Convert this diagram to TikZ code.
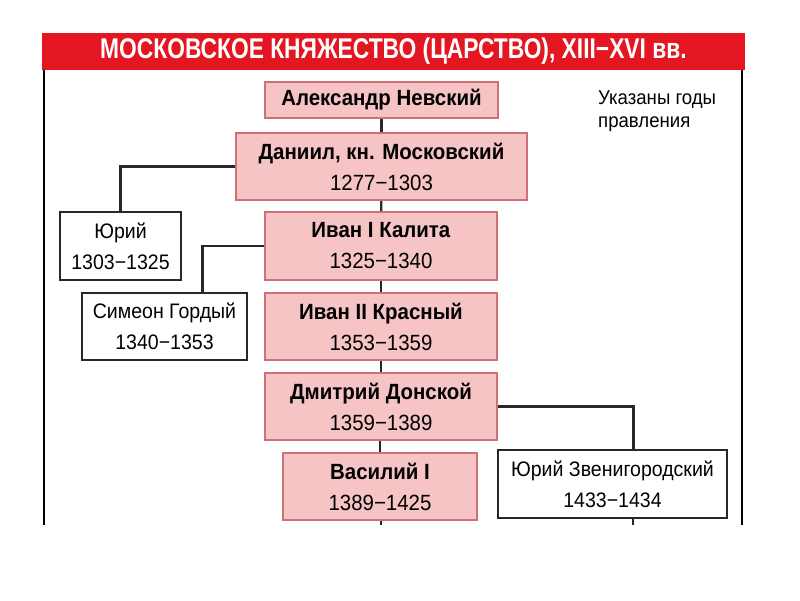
\documentclass[tikz,border=0pt]{standalone}
\usepackage{fontspec}
\setmainfont{Liberation Sans}
\newfontfamily\narrowfont[FakeStretch=0.93,Ligatures=TeX]{Liberation Sans}
\newfontfamily\titlefont[FakeStretch=0.8,Ligatures=TeX]{Liberation Sans}
\definecolor{headred}{RGB}{228,22,34}
\definecolor{rosefill}{RGB}{246,196,196}
\definecolor{roseline}{RGB}{206,112,118}
\definecolor{linkgray}{RGB}{40,40,40}
\tikzset{
  ruler/.style={draw=roseline, fill=rosefill, line width=2.2pt, align=center, inner sep=0pt,
    font=\narrowfont\fontsize{22}{31}\selectfont},
  kin/.style={draw=linkgray, fill=white, line width=2.2pt, align=center, inner sep=0pt,
    font=\narrowfont\fontsize{21}{31}\selectfont},
  link/.style={draw=linkgray, line width=2.2pt},
}
\begin{document}
\begin{tikzpicture}[x=1pt,y=-1pt]
  \useasboundingbox (0,0) rectangle (800,600);

  % frame and title
  \draw[black, line width=2.6pt] (44,70) -- (44,525);
  \draw[black, line width=2.6pt] (742,70) -- (742,525);
  \node[fill=headred, minimum width=703pt, minimum height=37pt, inner sep=0pt,
        text=white, font=\titlefont\bfseries\fontsize{28.5}{30}\selectfont]
        (title) at (393.5,51.5) {МОСКОВСКОЕ КНЯЖЕСТВО (ЦАРСТВО), XIII−XVI вв.};
  \node[anchor=north west, align=left, inner sep=0pt,
        font=\narrowfont\fontsize{20}{23}\selectfont]
        (note) at (598,91) {Указаны годы\\правления};

  % main line
  \node[ruler, minimum width=233pt, minimum height=36pt] (alex) at (381.5,100) {\textbf{Александр Невский}};
  \node[ruler, minimum width=291pt, minimum height=67pt] (daniil) at (381.5,166.5) {\textbf{Даниил, кн. Московский}\\1277−1303};
  \node[ruler, minimum width=232pt, minimum height=68pt] (ivan1) at (381,246) {\textbf{Иван I Калита}\\1325−1340};
  \node[ruler, minimum width=232pt, minimum height=67pt] (ivan2) at (381,326.5) {\textbf{Иван II Красный}\\1353−1359};
  \node[ruler, minimum width=232pt, minimum height=67pt] (dmitry) at (381,406.5) {\textbf{Дмитрий Донской}\\1359−1389};
  \node[ruler, minimum width=194pt, minimum height=67pt] (vasily) at (380,486.5) {\textbf{Василий I}\\1389−1425};

  % side branches
  \node[kin, minimum width=121pt, minimum height=68pt] (yuri) at (120.5,246) {Юрий\\1303−1325};
  \node[kin, minimum width=165pt, minimum height=67pt] (simeon) at (164.5,326.5) {Симеон Гордый\\1340−1353};
  \node[kin, minimum width=229pt, minimum height=68pt] (yurizv) at (612.5,484) {Юрий Звенигородский\\1433−1434};

  \coordinate (mainend) at (381,525);
  \coordinate (zvend) at (633,525);

  % links
  \draw[link] (alex) -- (daniil);
  \draw[link] (daniil) -- (ivan1);
  \draw[link] (ivan1) -- (ivan2);
  \draw[link] (ivan2) -- (dmitry);
  \draw[link] (dmitry.south -| vasily.north) -- (vasily.north);
  \draw[link] (vasily.south -| mainend) -- (mainend);
  \draw[link] (daniil.west) -| (yuri.north);
  \draw[link] (ivan1.west) -| ([xshift=38pt]simeon.north);
  \draw[link] (dmitry.east) -| ([xshift=21pt]yurizv.north);
  \draw[link] (yurizv.south -| zvend) -- (zvend);
\end{tikzpicture}
\end{document}
